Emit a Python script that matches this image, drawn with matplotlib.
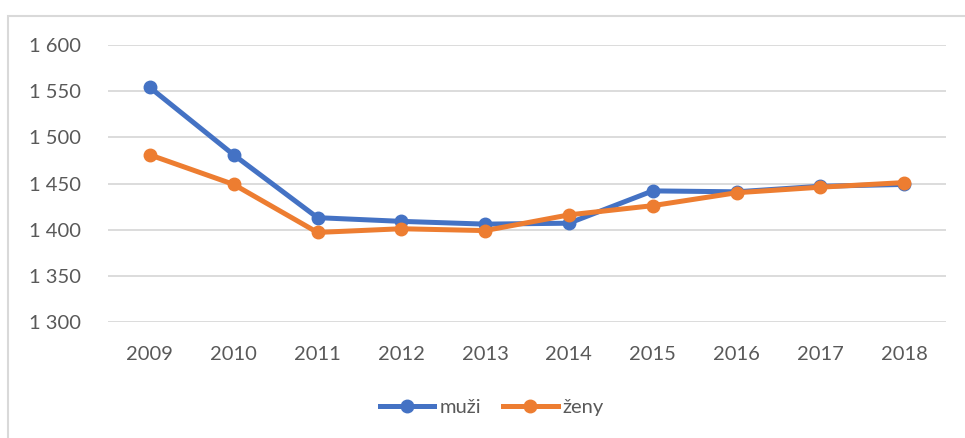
import matplotlib.pyplot as plt
from matplotlib.lines import Line2D
from matplotlib.patches import Rectangle

# data
years = ['2009', '2010', '2011', '2012', '2013', '2014', '2015', '2016', '2017', '2018']
muzi = [1554, 1481, 1413, 1409, 1406, 1407, 1442, 1441, 1447, 1449]
zeny = [1481, 1449, 1397, 1401, 1399, 1416, 1426, 1440, 1446, 1451]
y_ticks = [1300, 1350, 1400, 1450, 1500, 1550, 1600]

BLUE = '#4472C4'
ORANGE = '#ED7D31'
TXT = '#595959'
W, H = 965, 438

plt.rcParams['font.family'] = ['Lato', 'DejaVu Sans']

fig = plt.figure(figsize=(W / 100, H / 100), dpi=100)
# outer chart border (cropped on the right and bottom)
fig.patches.append(Rectangle((8 / W, -0.1), 1.2, 1 - 16 / H + 0.1, transform=fig.transFigure,
                             fill=False, edgecolor='#D9D9D9', linewidth=1.5))

ax = fig.add_axes([108 / W, 1 - 322 / H, (946 - 108) / W, (322 - 45) / H])
x = range(len(years))
ax.plot(x, muzi, color=BLUE, lw=3.6, marker='o', ms=9, solid_capstyle='round', zorder=3)
ax.plot(x, zeny, color=ORANGE, lw=3.6, marker='o', ms=9, solid_capstyle='round', zorder=4)

ax.set_xlim(-0.5, len(years) - 0.5)
ax.set_ylim(1300, 1600)
ax.set_yticks(y_ticks)
ax.set_yticklabels([f'{v:,}'.replace(',', ' ') for v in y_ticks])
ax.set_xticks(list(x))
ax.set_xticklabels(years)
ax.grid(axis='y', color='#D9D9D9', lw=1.3)
ax.set_axisbelow(True)
for s in ax.spines.values():
    s.set_visible(False)
ax.tick_params(axis='both', length=0, labelsize=14.5, labelcolor=TXT)
ax.tick_params(axis='y', pad=19.5)
ax.tick_params(axis='x', pad=17.5)

handles = [Line2D([], [], color=BLUE, lw=3.6, marker='o', ms=9),
           Line2D([], [], color=ORANGE, lw=3.6, marker='o', ms=9)]
leg = fig.legend(handles, ['muži', 'ženy'], loc='center', ncol=2, frameon=False,
                 bbox_to_anchor=(492 / W, 1 - 407 / H), fontsize=14.5,
                 handlelength=2.7, handletextpad=0.25, columnspacing=1.1)
for t in leg.get_texts():
    t.set_color(TXT)

fig.savefig('out.png', dpi=100)
